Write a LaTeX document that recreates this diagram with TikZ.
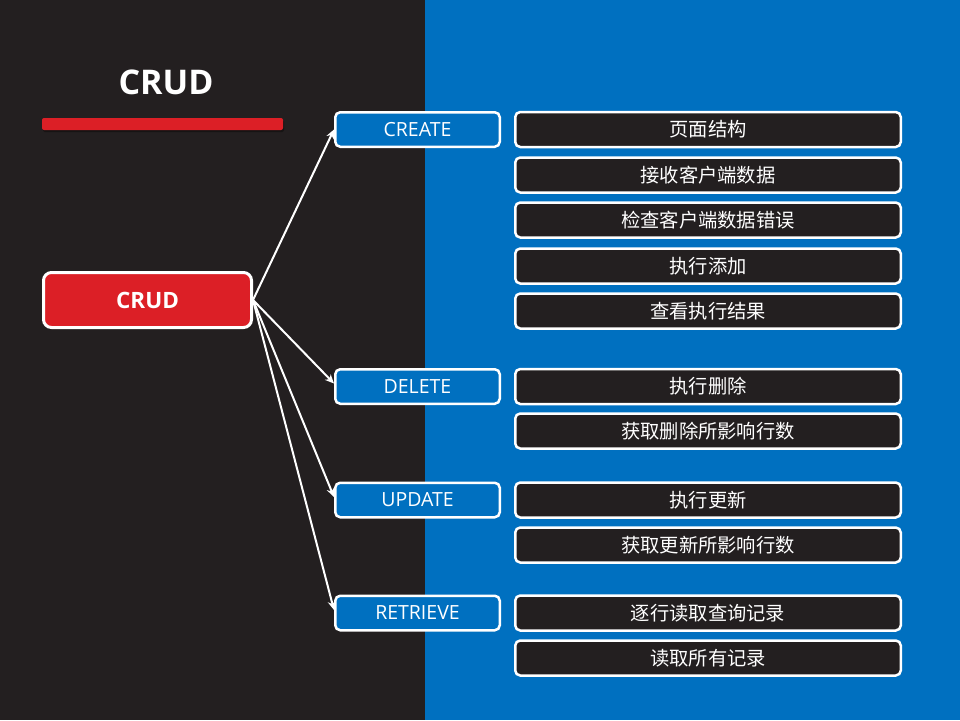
\documentclass[tikz,border=0pt]{standalone}
\usepackage{fontspec}
\setmainfont{Open Sans}
\newfontfamily\cjk{Noto Sans CJK SC}
\usetikzlibrary{arrows.meta,shadows}
\definecolor{darkbg}{HTML}{231F20}
\definecolor{panelblue}{HTML}{0070C0}
\definecolor{crudred}{HTML}{DC1F26}
\tikzset{
  rootbox/.style={rectangle, rounded corners=8pt, draw=white, line width=3pt,
    fill=crudred, text=white, minimum width=208pt, minimum height=55pt,
    inner sep=0pt, font=\bfseries\fontsize{22.5}{26}\selectfont},
  opbox/.style={rectangle, rounded corners=5pt, draw=white, line width=2.5pt,
    fill=panelblue, text=white, minimum width=164.5pt, minimum height=34.5pt,
    inner sep=0pt, font=\fontsize{19.5}{22}\selectfont},
  stepbox/.style={rectangle, rounded corners=5pt, draw=white, line width=2.5pt,
    fill=darkbg, text=white, minimum width=385.5pt, minimum height=35pt,
    inner sep=0pt, font=\cjk\fontsize{19.3}{22}\selectfont},
  conn/.style={draw=white, line width=2pt, -{Stealth[length=9pt,width=8pt]}},
}
\begin{document}
\begin{tikzpicture}[x=1pt,y=-1pt]
  \useasboundingbox (0,0) rectangle (960,720);
  % background halves
  \fill[darkbg] (0,0) rectangle (960,720);
  \fill[panelblue] (425,0) rectangle (960,720);

  % heading and underline bar
  \node[text=white, font=\bfseries\fontsize{34}{40}\selectfont] (title) at (166,82) {CRUD};
  \fill[crudred, rounded corners=2pt,
        drop shadow={shadow xshift=1pt, shadow yshift=-2pt, opacity=0.35, fill=black}]
    (42,118) rectangle (283,130);

  % root node
  \node[rootbox] (crud) at (147.5,300) {CRUD};

  % operations
  \node[opbox] (create)   at (417.5,129.5) {CREATE};
  \node[opbox] (delete)   at (417.5,386.5) {DELETE};
  \node[opbox] (update)   at (417.5,500)   {UPDATE};
  \node[opbox] (retrieve) at (417.5,613)   {RETRIEVE};

  % steps for each operation
  \node[stepbox] (c1) at (708,129.5) {页面结构};
  \node[stepbox] (c2) at (708,175)   {接收客户端数据};
  \node[stepbox] (c3) at (708,220)   {检查客户端数据错误};
  \node[stepbox] (c4) at (708,266)   {执行添加};
  \node[stepbox] (c5) at (708,311)   {查看执行结果};

  \node[stepbox] (d1) at (708,386.5) {执行删除};
  \node[stepbox] (d2) at (708,431)   {获取删除所影响行数};

  \node[stepbox] (u1) at (708,500)   {执行更新};
  \node[stepbox] (u2) at (708,545)   {获取更新所影响行数};

  \node[stepbox] (r1) at (708,613)   {逐行读取查询记录};
  \node[stepbox] (r2) at (708,658)   {读取所有记录};

  % connectors
  \draw[conn] (crud.east) -- (create.west);
  \draw[conn] (crud.east) -- ([yshift=3pt]delete.west);
  \draw[conn] (crud.east) -- ([yshift=3pt]update.west);
  \draw[conn] (crud.east) -- ([yshift=3pt]retrieve.west);
\end{tikzpicture}
\end{document}
